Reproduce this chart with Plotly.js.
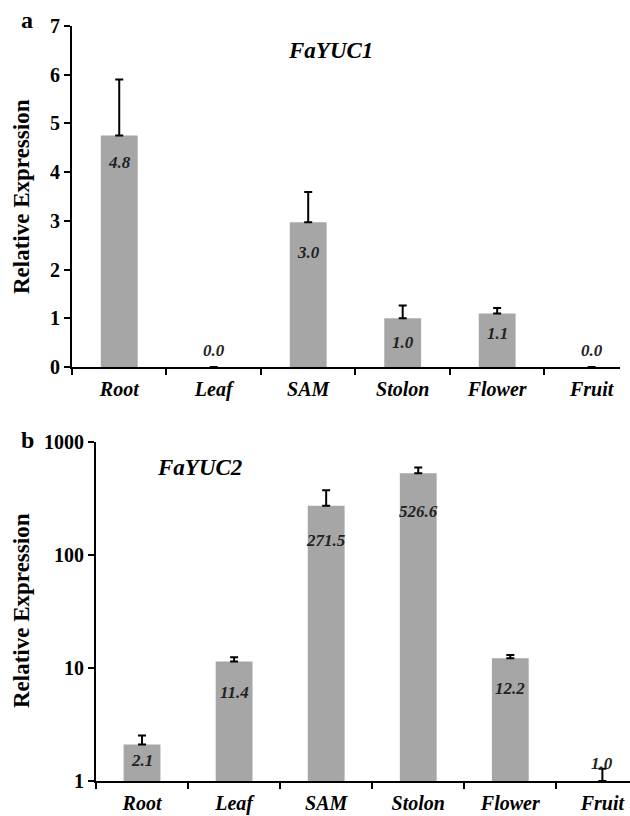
<!DOCTYPE html>
<html>
<head>
<meta charset="utf-8">
<script src="https://cdn.plot.ly/plotly-3.0.1.min.js"></script>
<style>html,body{margin:0;padding:0;background:#fff;}#chart{width:630px;height:816px;}</style>
</head>
<body>
<div id="chart"></div>
<script>
// ---- data ----
var tissues = ["Root", "Leaf", "SAM", "Stolon", "Flower", "Fruit"];

var yuc1Values = [4.75, 0, 2.97, 1.0, 1.1, 0];
var yuc1Errors = [1.15, 0, 0.62, 0.26, 0.11, 0];
var yuc1Labels = ["4.8", "0.0", "3.0", "1.0", "1.1", "0.0"];

var yuc2Values = [2.1, 11.4, 271.5, 526.6, 12.2, 1.0];
var yuc2Errors = [0.43, 1.0, 100, 65, 0.8, 0.28];
var yuc2Labels = ["2.1", "11.4", "271.5", "526.6", "12.2", "1.0"];

var yTicks2 = [1, 10, 100, 1000];

// ---- style ----
var FONT = "Liberation Serif";
var BAR = "#a6a6a6";
var yuc1Shift = [-27, 17, -30, -24, -20, 17];
var yuc2Shift = [-16, -31, -35, -38, -30, 18];

var W = 630, H = 816;
function px(x){ return x / W; }
function py(y){ return (H - y) / H; }

var errStyle = {type: "data", symmetric: false, color: "#000", thickness: 2, width: 4};

var traces = [
  {
    type: "bar", x: tissues, y: yuc1Values, xaxis: "x", yaxis: "y",
    marker: {color: BAR}, width: 0.39,
    error_y: Object.assign({}, errStyle, {array: yuc1Errors, arrayminus: yuc1Errors.map(function(){return 0;})}),
    hoverinfo: "none"
  },
  {
    type: "bar", x: tissues, y: yuc2Values, xaxis: "x2", yaxis: "y2",
    marker: {color: BAR}, width: 0.40,
    error_y: Object.assign({}, errStyle, {array: yuc2Errors, arrayminus: yuc2Errors.map(function(){return 0;})}),
    hoverinfo: "none"
  }
];

var annotations = [];
function ann(o){ o.showarrow = false; o.xanchor = "center"; o.yanchor = "middle"; annotations.push(o); }

tissues.forEach(function(t, i){
  ann({
    xref: "x", yref: "y", x: t, y: yuc1Values[i], yshift: yuc1Shift[i],
    text: yuc1Labels[i],
    font: {family: FONT, size: 17, color: "#222", weight: "bold", style: "italic"}
  });
  ann({
    xref: "x2", yref: "y2", x: t, y: Math.log10(yuc2Values[i]), yshift: yuc2Shift[i],
    text: yuc2Labels[i],
    font: {family: FONT, size: 17, color: "#222", weight: "bold", style: "italic"}
  });
});

ann({xref: "paper", yref: "paper", x: px(330), y: py(50), text: "FaYUC1",
     font: {family: FONT, size: 23, color: "#000", weight: "bold", style: "italic"}});
ann({xref: "paper", yref: "paper", x: px(199), y: py(467), text: "FaYUC2",
     font: {family: FONT, size: 23, color: "#000", weight: "bold", style: "italic"}});
ann({xref: "paper", yref: "paper", x: px(27), y: py(20), text: "a",
     font: {family: FONT, size: 24, color: "#000", weight: "bold"}});
ann({xref: "paper", yref: "paper", x: px(27), y: py(440), text: "b",
     font: {family: FONT, size: 24, color: "#000", weight: "bold"}});
ann({xref: "paper", yref: "paper", x: px(21), y: py(197), text: "Relative Expression", textangle: -90,
     font: {family: FONT, size: 23, color: "#000", weight: "bold"}});
ann({xref: "paper", yref: "paper", x: px(21), y: py(611), text: "Relative Expression", textangle: -90,
     font: {family: FONT, size: 23, color: "#000", weight: "bold"}});

var xCommon = {
  type: "category", tickson: "boundaries", range: [-0.5, 5.3],
  showline: true, linecolor: "#000", linewidth: 2,
  ticks: "outside", ticklen: 6, tickwidth: 2, tickcolor: "#000",
  ticklabelstandoff: 3,
  showgrid: false, zeroline: false, fixedrange: true,
  tickfont: {family: FONT, size: 20, color: "#000", weight: "bold", style: "italic"}
};
var yCommon = {
  showline: true, linecolor: "#000", linewidth: 2,
  ticks: "outside", ticklen: 6, tickwidth: 2, tickcolor: "#000",
  showgrid: false, zeroline: false, fixedrange: true,
  tickfont: {family: FONT, size: 20, color: "#000", weight: "bold"}
};

var layout = {
  width: W, height: H,
  margin: {l: 0, r: 0, t: 0, b: 0},
  paper_bgcolor: "#fff", plot_bgcolor: "#fff",
  showlegend: false,
  font: {family: FONT},
  xaxis: Object.assign({}, xCommon, {domain: [px(72), px(620)], anchor: "y"}),
  yaxis: Object.assign({}, yCommon, {domain: [py(367), py(26)], anchor: "x", range: [0, 7], dtick: 1, tick0: 0}),
  xaxis2: Object.assign({}, xCommon, {domain: [px(96), 1], anchor: "y2"}),
  yaxis2: Object.assign({}, yCommon, {domain: [py(781), py(441.7)], anchor: "x2", type: "log", range: [0, 3],
    tickmode: "array", tickvals: yTicks2, ticktext: yTicks2.map(String)}),
  annotations: annotations
};

Plotly.newPlot("chart", traces, layout, {displayModeBar: false, staticPlot: true});
</script>
</body>
</html>
